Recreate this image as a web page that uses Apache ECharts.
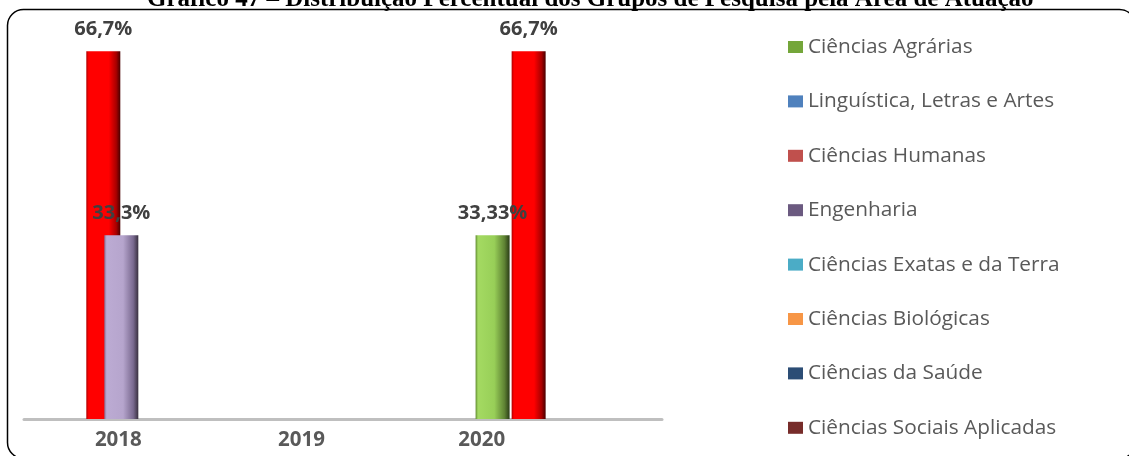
<!DOCTYPE html>
<html>
<head>
<meta charset="utf-8">
<script src="https://cdn.jsdelivr.net/npm/echarts@6/dist/echarts.min.js"></script>
<style>
html,body{margin:0;padding:0;background:#fff;}
#chart{width:1129px;height:456px;}
</style>
</head>
<body>
<div id="chart"></div>
<script>
// ---- data ----
const years = ['2018', '2019', '2020'];
const seriesNames = [
  'Ciências Agrárias',
  'Linguística, Letras e Artes',
  'Ciências Humanas',
  'Engenharia',
  'Ciências Exatas e da Terra',
  'Ciências Biológicas',
  'Ciências da Saúde',
  'Ciências Sociais Aplicadas'
];
const agrarias    = [null, null, 33.33];
const linguistica = [null, null, null];
const humanas     = [66.7, null, 66.7];
const engenharia  = [33.3, null, null];
const exatas      = [null, null, null];
const biologicas  = [null, null, null];
const saude       = [null, null, null];
const sociais     = [null, null, null];
const seriesValues = [agrarias, linguistica, humanas, engenharia, exatas, biologicas, saude, sociais];

// ---- styles ----
function grad(stops) {
  return new echarts.graphic.LinearGradient(0, 0, 1, 0, stops.map(s => ({offset: s[0], color: s[1]})));
}
const barFill = [
  grad([[0,'#5F8A30'],[0.07,'#A4DA62'],[0.55,'#98CF58'],[0.85,'#5E8233'],[1,'#2A3C16']]),
  '#4F81BD',
  grad([[0,'#B00000'],[0.07,'#FF0000'],[0.66,'#FF0000'],[0.88,'#A80000'],[1,'#480000']]),
  grad([[0,'#857399'],[0.07,'#BCABD3'],[0.55,'#B6A5CD'],[0.85,'#7A6A90'],[1,'#38303F']]),
  '#4BACC6', '#F79646', '#2C4D75', '#772C2A'
];
const legendColors = ['#74A63A','#4F81BD','#C0504D','#6B5A80','#4BACC6','#F79646','#2C4D75','#772C2A'];
const labelShift = [24, 83, 148];
const axisFont = {fontFamily: 'Open Sans', fontWeight: 'bold', fontSize: 20.5, color: '#595959'};

const chart = echarts.init(document.getElementById('chart'), null, {renderer: 'canvas'});
const option = {
  animation: false,
  backgroundColor: '#ffffff',
  title: {
    text: 'Gráfico 47 – Distribuição Percentual dos Grupos de Pesquisa pela Área de Atuação',
    left: 142, top: -18,
    textStyle: {fontFamily: 'Liberation Serif', fontWeight: 'bold', fontSize: 25, color: '#000'}
  },
  graphic: [{
    type: 'rect', z: 10, silent: true,
    shape: {x: 7.5, y: 9.5, width: 1128, height: 449, r: 16},
    style: {fill: 'none', stroke: '#000', lineWidth: 1.5}
  }],
  legend: {
    orient: 'vertical', left: 783, top: 30,
    itemWidth: 15, itemHeight: 12, itemGap: 30.4,
    icon: 'rect',
    textStyle: {fontFamily: 'Open Sans', fontSize: 20.8, color: '#595959', lineHeight: 24},
    data: seriesNames.map((n, i) => ({name: n, itemStyle: {color: legendColors[i]}}))
  },
  grid: {left: 24, width: 638, top: 33, bottom: 37, containLabel: false},
  xAxis: {
    type: 'category', data: years,
    axisLine: {show: true, lineStyle: {color: '#BFBFBF', width: 3}},
    axisTick: {show: false},
    axisLabel: {
      interval: 0, margin: 11,
      formatter: (v, i) => '{y' + i + '|' + v + '}',
      rich: {
        y0: Object.assign({padding: [0, labelShift[0], 0, 0]}, axisFont),
        y1: Object.assign({padding: [0, labelShift[1], 0, 0]}, axisFont),
        y2: Object.assign({padding: [0, labelShift[2], 0, 0]}, axisFont)
      }
    }
  },
  yAxis: {type: 'value', min: 0, max: 70, show: false, splitLine: {show: false}},
  series: seriesNames.map((n, i) => ({
    name: n, type: 'bar',
    data: seriesValues[i],
    barWidth: 34, barGap: '-47%',
    itemStyle: {color: barFill[i]},
    label: {
      show: true, position: 'top', distance: 12,
      fontFamily: 'Open Sans', fontWeight: 'bold', fontSize: 20, color: '#404040',
      formatter: p => String(p.value).replace('.', ',') + '%'
    }
  }))
};
chart.setOption(option);
</script>
</body>
</html>
